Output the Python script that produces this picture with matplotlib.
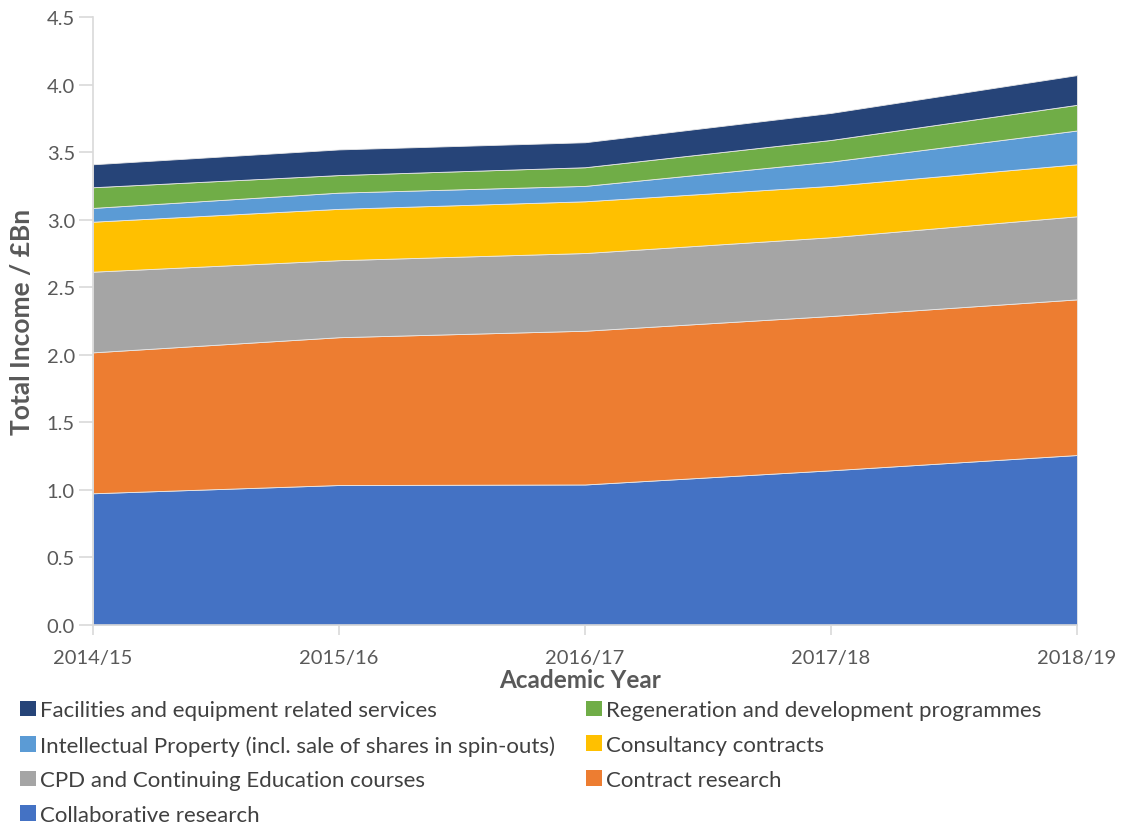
import numpy as np
import matplotlib
matplotlib.use("Agg")
import matplotlib.pyplot as plt
from matplotlib.patches import Patch

plt.rcParams['font.family'] = ['Lato', 'DejaVu Sans']

years = ["2014/15", "2015/16", "2016/17", "2017/18", "2018/19"]

# income by source, £bn
collaborative = [0.975, 1.036, 1.040, 1.145, 1.258]
contract = [1.043, 1.094, 1.138, 1.142, 1.152]
cpd = [0.597, 0.570, 0.575, 0.583, 0.615]
consultancy = [0.370, 0.380, 0.383, 0.380, 0.385]
ip = [0.102, 0.120, 0.114, 0.180, 0.250]
regeneration = [0.153, 0.130, 0.138, 0.160, 0.190]
facilities = [0.170, 0.190, 0.185, 0.200, 0.220]

names = ["Collaborative research", "Contract research",
         "CPD and Continuing Education courses", "Consultancy contracts",
         "Intellectual Property (incl. sale of shares in spin-outs)",
         "Regeneration and development programmes",
         "Facilities and equipment related services"]
colors = ['#4472C4', '#ED7D31', '#A5A5A5', '#FFC000', '#5B9BD5', '#70AD47', '#264478']

txt = '#595959'
fig = plt.figure(figsize=(11.23, 8.28), dpi=100)
ax = fig.add_axes([93/1123, 1-626/828, (1077-93)/1123, (626-18)/828])

x = np.arange(len(years))
polys = ax.stackplot(x, collaborative, contract, cpd, consultancy, ip,
                     regeneration, facilities, colors=colors)
for p in polys:
    p.set_edgecolor('#e8e8e8')
    p.set_linewidth(0.6)

ax.set_xlim(0, 4)
ax.set_ylim(0, 4.5)
ax.set_yticks(np.arange(0, 4.51, 0.5))
ax.set_yticklabels(["%.1f" % v for v in np.arange(0, 4.51, 0.5)])
ax.set_xticks(x)
ax.set_xticklabels(years)

for s in ['top', 'right']:
    ax.spines[s].set_visible(False)
for s in ['left', 'bottom']:
    ax.spines[s].set_color('#D9D9D9')
    ax.spines[s].set_linewidth(1.2)
ax.tick_params(axis='both', colors='#D9D9D9', labelcolor=txt, labelsize=14.5, width=1.2)
ax.tick_params(axis='y', length=10, pad=3)
ax.tick_params(axis='x', length=7, pad=10)

ax.set_ylabel("Total Income / £Bn", fontsize=19, fontweight='bold', color=txt)
ax.yaxis.set_label_coords(-59/984, 0.5)
ax.set_xlabel("Academic Year", fontsize=17.5, fontweight='bold', color=txt)
ax.xaxis.set_label_coords(0.495, -43/608)

# legend rows: Fac | Regen, IP | Consult, CPD | Contract, Collab
order = [6, 4, 2, 0, 5, 3, 1]
handles = [Patch(facecolor=colors[i], label=names[i]) for i in order]
fig.legend(handles=handles, loc='upper left', bbox_to_anchor=(0.018, 0.153),
           ncol=2, frameon=False, fontsize=16, labelcolor='#404040',
           handlelength=0.7, handleheight=0.7, handletextpad=0.2,
           columnspacing=1.4, labelspacing=0.66, borderaxespad=0, borderpad=0)

fig.savefig("out.png", dpi=100)
